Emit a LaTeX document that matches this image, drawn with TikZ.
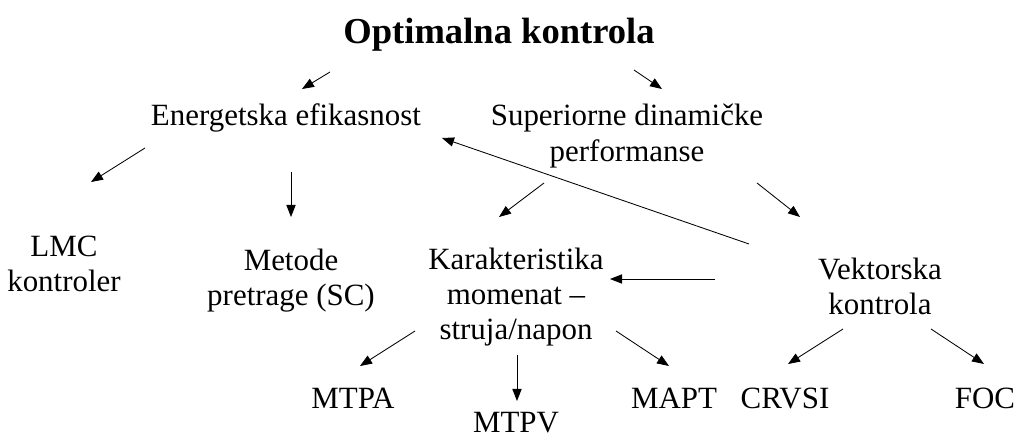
\documentclass[tikz,border=0pt]{standalone}
\usepackage{fontspec}
\setmainfont{Liberation Serif}
\usetikzlibrary{arrows.meta}

\tikzset{
  lbl/.style={align=center,inner sep=0pt,font=\fontsize{22}{25}\selectfont},
  arr/.style={-{Triangle[length=3mm,width=2.3mm]},line width=0.6pt}
}

\begin{document}
\begin{tikzpicture}[x=0.025cm,y=-0.025cm]
\useasboundingbox (0,0) rectangle (1025,439);
% levels
\node[lbl,font=\fontsize{26}{30}\selectfont\bfseries] (title) at (499,35) {Optimalna kontrola};
\node[lbl] (energ) at (286,118) {Energetska efikasnost};
\node[lbl] (super) at (627,136) {Superiorne dinamičke\\performanse};
\node[lbl] (lmc) at (64,264) {LMC\\kontroler};
\node[lbl] (metode) at (291,281) {Metode\\pretrage (SC)};
\node[lbl] (karak) at (516,297) {Karakteristika\\momenat --\\struja/napon};
\node[lbl] (vekt) at (880,286) {Vektorska\\kontrola};
\node[lbl] (mtpa) at (353,398) {MTPA};
\node[lbl] (mtpv) at (516,423) {MTPV};
\node[lbl] (mapt) at (674,398) {MAPT};
\node[lbl] (crvsi) at (785,398) {CRVSI};
\node[lbl] (foc) at (985,398) {FOC};

% arrows
\draw[arr] ([shift={(-169,37)}]title.center) -- ([shift={(16,-29)}]energ.center);
\draw[arr] ([shift={(135,35)}]title.center) -- ([shift={(35,-47)}]super.center);
\draw[arr] ([shift={(-141,30)}]energ.center) -- ([shift={(27,-82)}]lmc.center);
\draw[arr] ([shift={(5,54)}]energ.center) -- ([shift={(0,-64)}]metode.center);
\draw[arr] ([shift={(-83,47)}]super.center) -- ([shift={(-17,-80)}]karak.center);
\draw[arr] ([shift={(130,47)}]super.center) -- ([shift={(-80,-69)}]vekt.center);
\draw[arr] ([shift={(-131,-42)}]vekt.center) -- ([shift={(156,20)}]energ.center);
\draw[arr] ([shift={(-165,-7)}]vekt.center) -- ([shift={(94,-18)}]karak.center);
\draw[arr] ([shift={(-101,34)}]karak.center) -- ([shift={(7,-32)}]mtpa.center);
\draw[arr] ([shift={(1,58)}]karak.center) -- ([shift={(1,-22)}]mtpv.center);
\draw[arr] ([shift={(100,34)}]karak.center) -- ([shift={(-5,-32)}]mapt.center);
\draw[arr] ([shift={(-37,43)}]vekt.center) -- ([shift={(3,-34)}]crvsi.center);
\draw[arr] ([shift={(51,43)}]vekt.center) -- ([shift={(-1,-34)}]foc.center);
\end{tikzpicture}
\end{document}
